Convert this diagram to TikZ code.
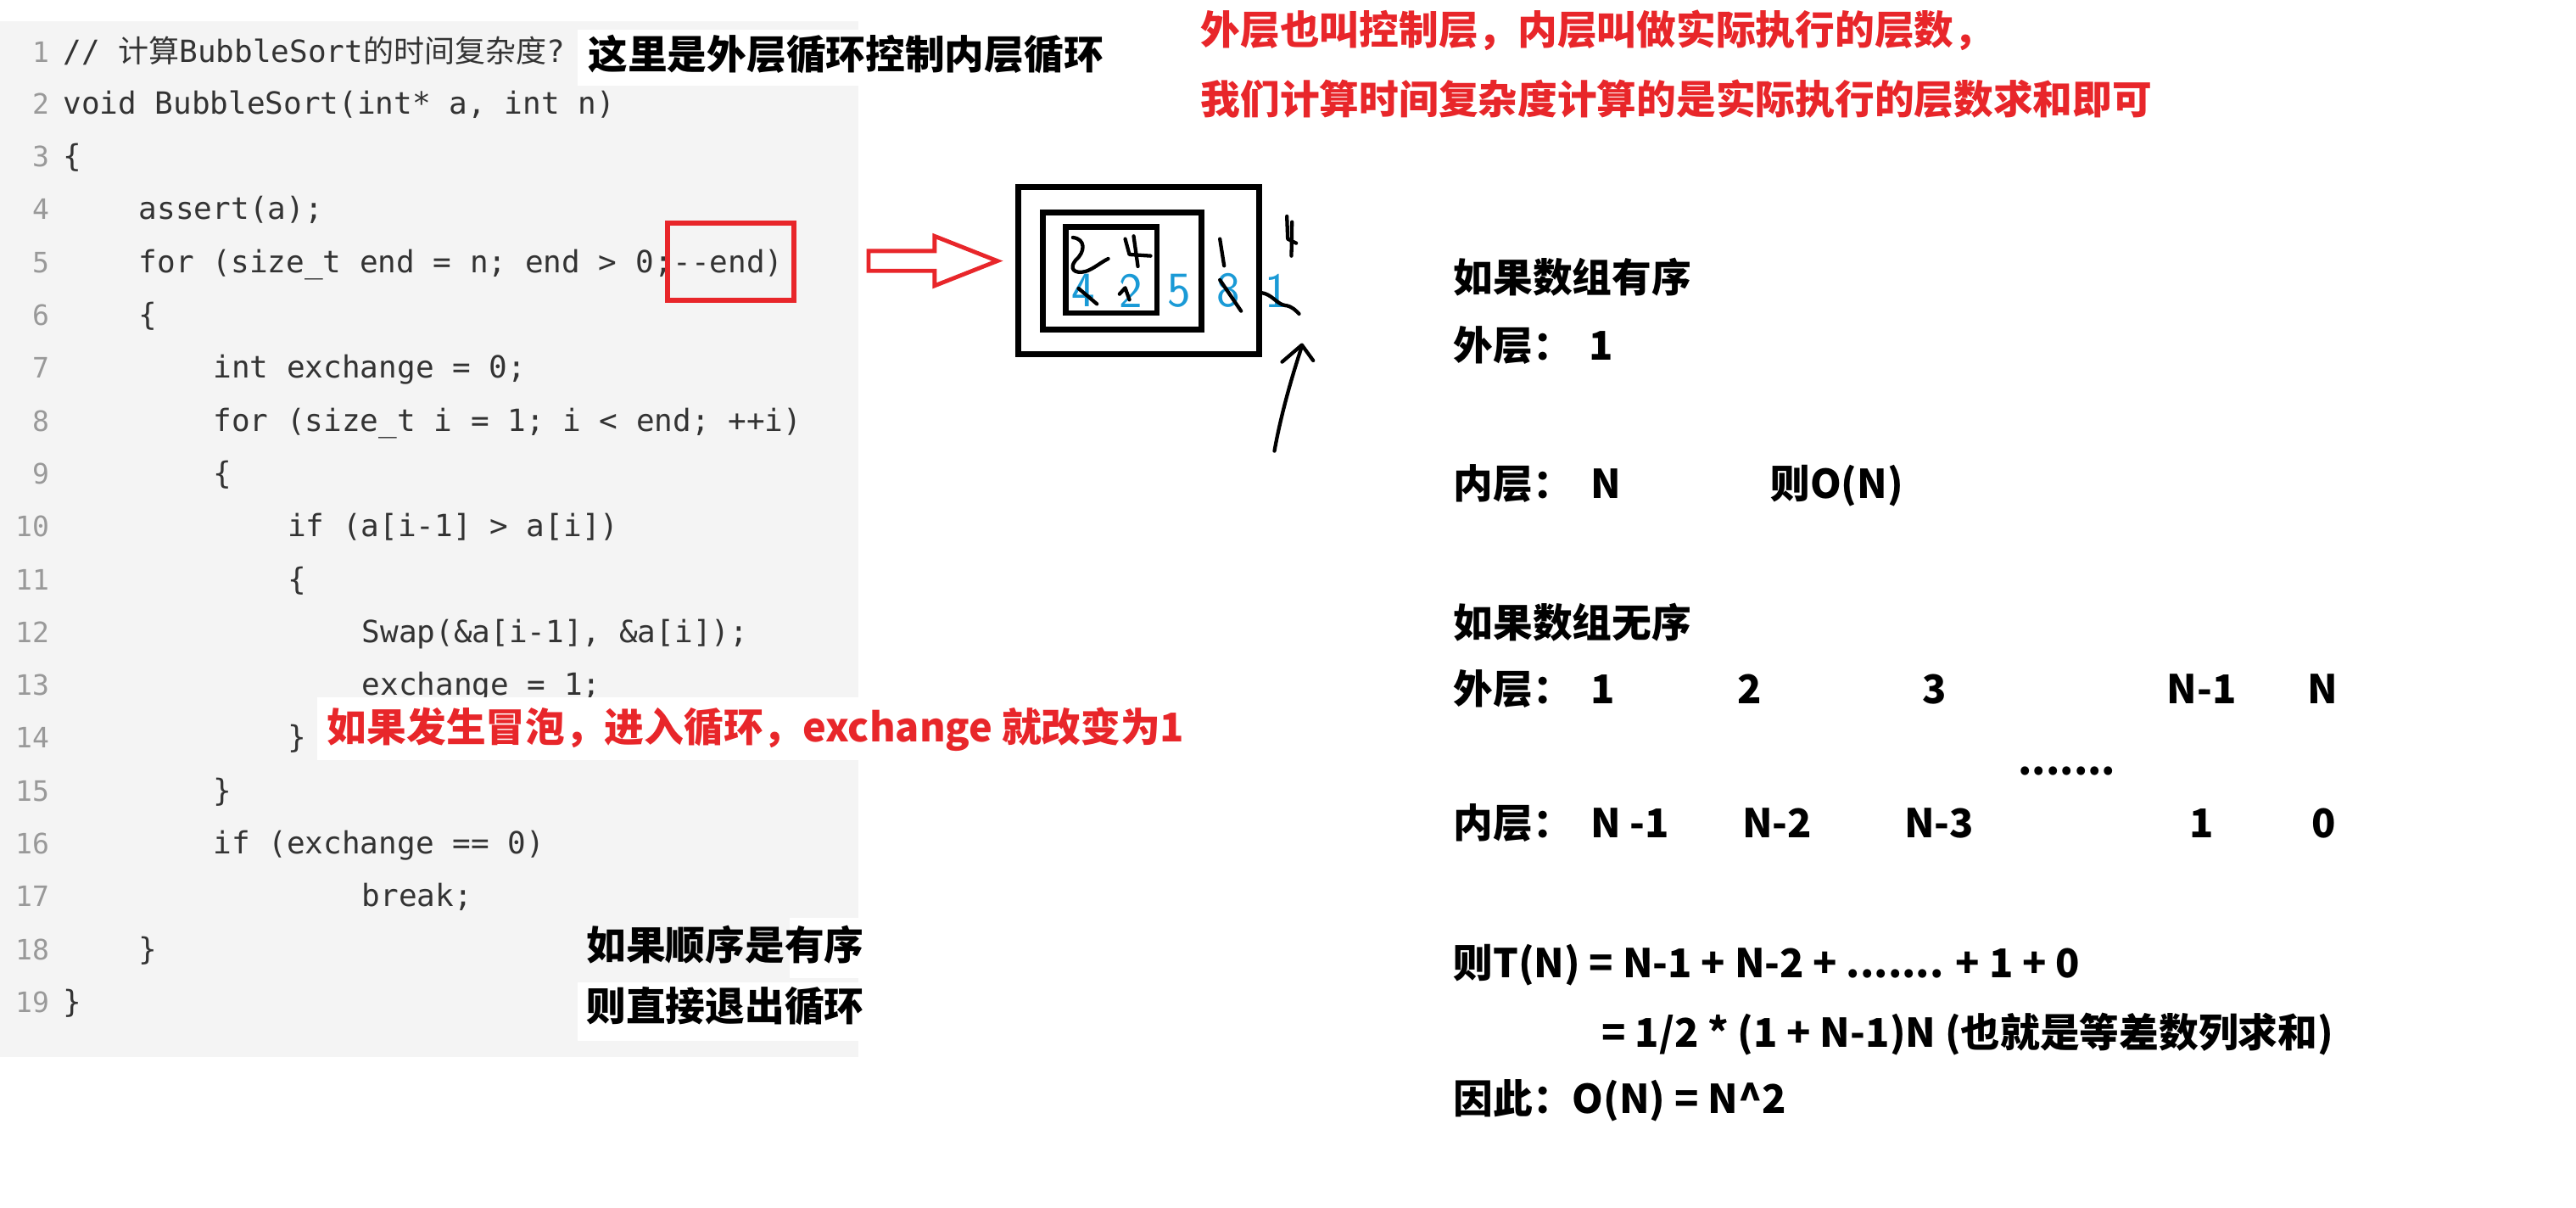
\documentclass[tikz,border=0pt]{standalone}
\usepackage{fontspec}
\setmonofont{DejaVu Sans Mono}
\newfontfamily\cjk{Noto Sans CJK SC}
\definecolor{codebg}{HTML}{F4F4F4}
\definecolor{codefg}{HTML}{333333}
\definecolor{lnum}{HTML}{999999}
\definecolor{myred}{HTML}{E8262A}
\definecolor{myblue}{HTML}{1A9AD6}
\tikzset{
 x=1pt,y=1pt,
 code/.style={anchor=base west,inner sep=0pt,text=codefg,font=\fontsize{18.5}{20}\selectfont\ttfamily},
 lno/.style={anchor=base east,inner sep=0pt,text=lnum,font=\fontsize{17}{20}\selectfont\ttfamily},
 bt/.style={anchor=base west,inner sep=0pt,font=\fontsize{24}{28}\selectfont\cjk\bfseries},
 rt/.style={bt,text=myred},
 hand/.style={line width=2.2,line cap=round,line join=round},
 dig/.style={text=myblue,font=\fontsize{30}{32}\selectfont\sffamily,inner sep=0pt}
}
\begin{document}
\begin{tikzpicture}
\useasboundingbox (0,0) rectangle (1560,-731);
\fill[white] (0,0) rectangle (1560,-731);
\fill[codebg] (0,-13) rectangle (520,-640);
% line numbers and code
\foreach \i [count=\n] in {31,62,94,126,158,190,222,254,286,318,350,382,414,446,478,510,542,574,606}
  \node[lno] (ln\n) at (30,-\i-7) {\n};
\node[code] (c1) at (38,-38) {// {\cjk 计算}BubbleSort{\cjk 的时间复杂度}?};
\node[code] (c2) at (38,-69) {void BubbleSort(int* a, int n)};
\node[code] (c3) at (38,-101) {\{};
\node[code] (c4) at (84,-133) {assert(a);};
\node[code] (c5) at (84,-165) {for (size\_t end = n; end > 0; };
\node[code] (c5b) at (c5.base east) {-{}-end)};
\node[code] (c6) at (84,-197) {\{};
\node[code] (c7) at (129,-229) {int exchange = 0;};
\node[code] (c8) at (129,-261) {for (size\_t i = 1; i < end; ++i)};
\node[code] (c9) at (129,-293) {\{};
\node[code] (c10) at (174,-325) {if (a[i-1] > a[i])};
\node[code] (c11) at (174,-357) {\{};
\node[code] (c12) at (219,-389) {Swap(\&a[i-1], \&a[i]);};
\node[code] (c13) at (219,-421) {exchange = 1;};
\node[code] (c14) at (174,-453) {\}};
\node[code] (c15) at (129,-485) {\}};
\node[code] (c16) at (129,-517) {if (exchange == 0)};
\node[code] (c17) at (219,-549) {break;};
\node[code] (c18) at (84,-581) {\}};
\node[code] (c19) at (38,-613) {\}};
% annotations on code
\fill[white] (350,-18) rectangle (690,-52);
\node[bt] (h1) at (356,-42) {这里是外层循环控制内层循环};
\draw[myred,line width=3] ([xshift=-3pt]c5b.west |- 0,-135) rectangle ([xshift=6pt]c5b.east |- 0,-182);
\coordinate (redbox) at (c5b.east);
\fill[white] (192,-422) rectangle (740,-460);
\node[rt] (r3) at (198,-449) {如果发生冒泡，进入循环，exchange 就改变为1};
\fill[white] (478,-556) rectangle (540,-592);
\fill[white] (350,-595) rectangle (530,-630);
\node[bt] (s1) at (355,-581) {如果顺序是有序};
\node[bt] (s2) at (355,-618) {则直接退出循环};
% hollow arrow
\draw[myred,line width=2.5,fill=white,line join=miter]
  (526,-152) -- (566,-152) -- (566,-143) -- (604,-158) -- (566,-173) -- (566,-164) -- (526,-164) -- cycle;
\coordinate (arrtip) at (604,-158);
% nested boxes
\node[draw,line width=3.6,minimum width=146,minimum height=101,inner sep=0pt] (outer) at (689.5,-164) {};
\node[draw,line width=3.6,minimum width=96,minimum height=71,inner sep=0pt] (middle) at (679.5,-164) {};
\node[draw,line width=3.3,minimum width=55,minimum height=52,inner sep=0pt] (inner) at (673,-163.5) {};
\node[dig] (d4) at (656,-176) {4};
\node[dig] (d2) at (685,-176) {2};
\node[dig] (d5) at (714,-176) {5};
\node[dig] (d8) at (744,-176) {8};
\node[dig] (d1) at (773,-176) {1};
% handwriting
\begin{scope}[shift={(606.06,-97.59)},scale=0.1712]
\draw[hand] (255,-270) .. controls (300,-275) and (300,-320) .. (265,-350) .. controls (240,-380) and (260,-400) .. (300,-390) .. controls (330,-380) and (350,-360) .. (380,-345);
\draw[hand] (440,-275) -- (455,-330) -- (530,-335);
\draw[hand] (470,-265) -- (485,-372);
\draw[hand] (775,-275) -- (790,-370);
\draw[hand] (275,-450) -- (340,-505);
\draw[hand] (420,-470) -- (440,-448) -- (455,-490);
\draw[hand] (775,-420) -- (850,-530);
\draw[hand] (920,-465) .. controls (960,-470) and (975,-505) .. (1005,-510) .. controls (1030,-512) and (1045,-530) .. (1055,-540);
\draw[hand] (1012,-195) -- (1015,-275) -- (1045,-290);
\draw[hand] (1030,-215) -- (1028,-335);
\draw[hand] (968,-1025) .. controls (990,-900) and (1030,-760) .. (1065,-655);
\draw[hand] (995,-710) -- (1065,-650) -- (1105,-705);
\end{scope}
% right text
\node[rt] (t1) at (727,-27) {外层也叫控制层，内层叫做实际执行的层数，};
\node[rt] (t2) at (727,-69) {我们计算时间复杂度计算的是实际执行的层数求和即可};
\node[bt] (a1) at (880,-177) {如果数组有序};
\node[bt] (a2) at (880,-218) {外层：};
\node[bt] (a3) at (962,-218) {1};
\node[bt] (a4) at (880,-302) {内层：};
\node[bt] (a5) at (963,-302) {N};
\node[bt] (a6) at (1072,-302) {则O(N)};
\node[bt] (b1) at (880,-386) {如果数组无序};
\node[bt] (b2) at (880,-426) {外层：};
\node[bt] (b3) at (963,-426) {1};
\node[bt] (b4) at (1052,-426) {2};
\node[bt] (b5) at (1164,-426) {3};
\node[bt] (b6) at (1312,-426) {N-1};
\node[bt] (b7) at (1397,-426) {N};
\node[bt] (b8) at (1222,-469) {.......};
\node[bt] (b9) at (880,-507) {内层：};
\node[bt] (b10) at (963,-507) {N -1};
\node[bt] (b11) at (1055,-507) {N-2};
\node[bt] (b12) at (1153,-507) {N-3};
\node[bt] (b13) at (1326,-507) {1};
\node[bt] (b14) at (1400,-507) {0};
\node[bt] (e1) at (880,-592) {则T(N) = N-1 + N-2 + ....... + 1 + 0};
\node[bt] (e2) at (970,-634) {= 1/2 * (1 + N-1)N (也就是等差数列求和)};
\node[bt] (e3) at (880,-674) {因此：O(N) = N\^{}2};
\end{tikzpicture}
\end{document}
